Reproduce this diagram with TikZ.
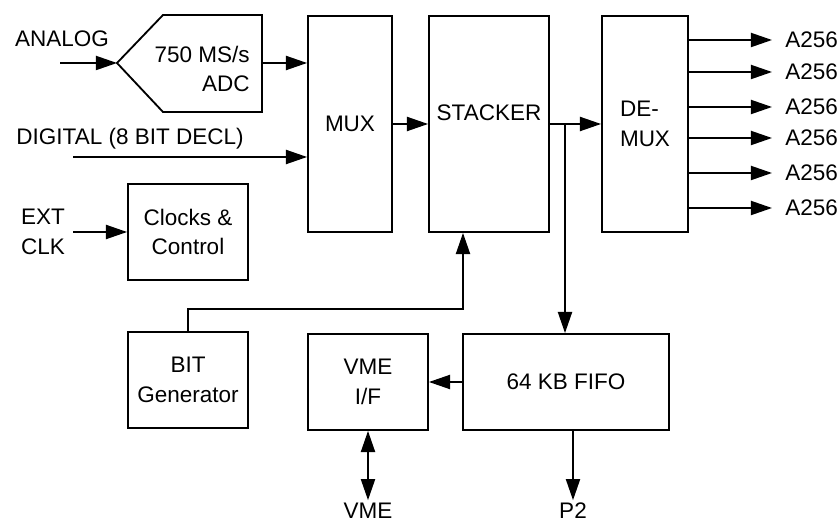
\documentclass[tikz,border=0pt]{standalone}
\usepackage{fontspec}
\setmainfont{Liberation Sans}
\usepackage{tikz}
\usetikzlibrary{arrows.meta, positioning}
\tikzset{
  blk/.style={
    rectangle, draw=black, line width=1.3pt, fill=white,
    align=center, inner sep=0pt, font=\fontsize{16}{21}\selectfont
  },
  lbl/.style={inner sep=0pt, align=center, font=\fontsize{16}{21}\selectfont},
  arr/.style={-{Triangle[length=15pt, width=10pt]}, line width=1.3pt},
  darr/.style={{Triangle[length=15pt, width=10pt]}-{Triangle[length=15pt, width=10pt]}, line width=1.3pt}
}

\begin{document}
\begin{tikzpicture}[x=0.025cm, y=-0.025cm]
\useasboundingbox (0,0) rectangle (840,523);

% ADC front end
\draw[line width=1.3pt] (117,63) coordinate (adcin) -- (163,15) -- (262,15)
  -- (262,112) -- (163,112) -- cycle;
\coordinate (adcout) at (262,63);
\node[lbl, align=right, anchor=east] (adc) at (250,69) {750 MS/s\\ADC};

% Main blocks
\node[blk, minimum width=2.1cm, minimum height=5.4cm] (mux) at (350,124) {MUX};
\node[blk, minimum width=3.0cm, minimum height=5.4cm] (stk) at (489,124) {};
\node[lbl] (stktxt) at (489,113) {STACKER};
\node[blk, minimum width=2.15cm, minimum height=5.4cm, align=left] (demux) at (645,124) {DE-\\MUX};
\node[blk, minimum width=3.0cm, minimum height=2.4cm] (clk) at (188,232) {Clocks \&\\Control};
\node[blk, minimum width=3.0cm, minimum height=2.4cm] (bit) at (188,380) {BIT\\Generator};
\node[blk, minimum width=3.0cm, minimum height=2.4cm] (vme) at (368,382) {VME\\I/F};
\node[blk, minimum width=5.15cm, minimum height=2.4cm] (fifo) at (566,382) {64 KB FIFO};

% Input labels
\node[lbl] (analog) at (62,39) {ANALOG};
\node[lbl] (digital) at (130,139) {DIGITAL (8 BIT DECL)};
\node[lbl] (ext) at (43,232) {EXT\\CLK};
\node[lbl, anchor=north] (vmebus) at (368,503) {VME};
\node[lbl, anchor=north] (ptwo) at (573,503) {P2};

% Inputs
\coordinate (ain) at (60,63);
\coordinate (din) at (73,157);
\coordinate (cin) at (73,232);
\draw[arr] (ain) -- (adcin);
\draw[arr] (adcout) -- (adcout -| mux.west);
\draw[arr] (din) -- (din -| mux.west);
\draw[arr] (cin) -- (clk);

% Data path
\draw[arr] (mux) -- (mux -| stk.west);
\draw[arr] (stk.east |- mux) -- (demux.west |- mux);
\coordinate (br) at (565,124);
\draw[arr] (br) -- (br |- fifo.north);
\draw[arr] (bit.north) -- ++(0,-22) -| ([xshift=-0.65cm]stk.south);
\draw[arr] (fifo) -- (vme);
\draw[darr] (vme.south) -- ([yshift=2pt]vmebus.north);
\draw[arr] ([xshift=0.175cm]fifo.south) -- ([yshift=2pt]ptwo.north);

% DE-MUX outputs
\foreach \y [count=\i] in {40,72,107,138,173,208} {
  \coordinate (out\i) at (772,\y);
  \draw[arr] (demux.east |- out\i) -- (out\i);
  \node[lbl, anchor=west] (a\i) at (785,\y) {A256};
}

\end{tikzpicture}
\end{document}
